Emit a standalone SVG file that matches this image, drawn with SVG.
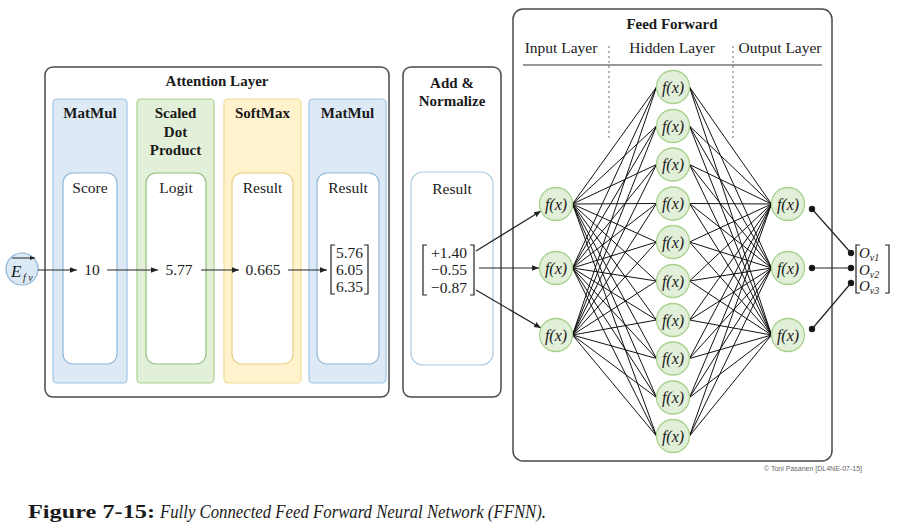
<svg xmlns="http://www.w3.org/2000/svg" width="901" height="529" viewBox="0 0 901 529">
<style>
text{font-family:"Liberation Serif","DejaVu Serif",serif;fill:#1a1a1a}
.t{font-size:15px;font-weight:bold;text-anchor:middle}
.h{font-size:15px;font-weight:bold;text-anchor:middle}
.l{font-size:15.5px;text-anchor:middle}
.v{font-size:15.5px;text-anchor:middle}
.fx{font-size:16px;font-style:italic;text-anchor:middle}
.outer{fill:#fff;stroke:#4a4a4a;stroke-width:1.5}
.blue{fill:#ddeaf6;stroke:#9dc3e6;stroke-width:1.2}
.green{fill:#e2efd9;stroke:#a9d18e;stroke-width:1.2}
.yellow{fill:#fff2cc;stroke:#f0dc9a;stroke-width:1.2}
.inb{fill:#fff;stroke:#8fb6d9;stroke-width:1.2}
.ing{fill:#fff;stroke:#92c07a;stroke-width:1.2}
.iny{fill:#fff;stroke:#e6cf85;stroke-width:1.2}
.node{fill:#e2efd9;stroke:#a9d18e;stroke-width:1.3}
.br{fill:none;stroke:#222;stroke-width:1.2}
.arr{stroke:#222;stroke-width:1.2;fill:none;marker-end:url(#ah)}
.net{stroke:#111;stroke-width:1;fill:none}
</style>
<defs>
<marker id="ah" viewBox="0 0 10 10" refX="10" refY="5" markerWidth="7" markerHeight="7" orient="auto" markerUnits="userSpaceOnUse"><path d="M0,1 L10,5 L0,9 z" fill="#222"/></marker>
<marker id="ahs" viewBox="0 0 10 10" refX="10" refY="5" markerWidth="5" markerHeight="5" orient="auto" markerUnits="userSpaceOnUse"><path d="M0,1 L10,5 L0,9 z" fill="#222"/></marker>
</defs>
<rect width="901" height="529" fill="#fff"/>

<!-- Attention Layer -->
<g id="attention-layer">
<rect class="outer" x="45" y="67" width="344" height="330" rx="8"/>
<text class="t" x="217" y="86">Attention Layer</text>
</g>
<g id="matmul1">
<rect class="blue" x="53" y="99" width="74" height="284" rx="4"/>
<text class="h" x="90" y="118">MatMul</text>
<rect class="inb" x="63" y="173" width="54" height="191" rx="10"/>
<text class="l" x="90" y="193">Score</text>
<text class="v" x="92" y="275">10</text>
</g>
<g id="scaled-dot-product">
<rect class="green" x="137" y="99" width="77" height="284" rx="4"/>
<text class="h" x="175.5" y="118">Scaled</text>
<text class="h" x="175.5" y="137">Dot</text>
<text class="h" x="175.5" y="155">Product</text>
<rect class="ing" x="146" y="173" width="60" height="191" rx="10"/>
<text class="l" x="176" y="193">Logit</text>
<text class="v" x="179" y="275">5.77</text>
</g>
<g id="softmax">
<rect class="yellow" x="224" y="99" width="77" height="284" rx="4"/>
<text class="h" x="262.5" y="118">SoftMax</text>
<rect class="iny" x="232" y="173" width="61" height="191" rx="10"/>
<text class="l" x="262.5" y="193">Result</text>
<text class="v" x="263" y="275">0.665</text>
</g>
<g id="matmul2">
<rect class="blue" x="309" y="99" width="77" height="284" rx="4"/>
<text class="h" x="347.5" y="118">MatMul</text>
<rect class="inb" x="317" y="173" width="62" height="191" rx="10"/>
<text class="l" x="348" y="193">Result</text>
<path class="br" d="M335,245 L331,245 L331,294 L335,294 M364,245 L368,245 L368,294 L364,294"/>
<text class="v" x="349.5" y="258">5.76</text>
<text class="v" x="349.5" y="275">6.05</text>
<text class="v" x="349.5" y="292">6.35</text>
</g>

<!-- input vector -->
<g id="input-vector">
<circle cx="22" cy="269" r="16" fill="#dbe9f5" stroke="#8fb6d6" stroke-width="1.2"/>
<line x1="12" y1="258" x2="35" y2="258" stroke="#222" stroke-width="1" marker-end="url(#ahs)"/>
<text x="11" y="277" style="font-size:17px;font-style:italic">E</text>
<text x="23" y="281" style="font-size:10px;font-style:italic">f v</text>
</g>

<!-- Add & Normalize -->
<g id="add-normalize">
<rect class="outer" x="403" y="67" width="98" height="330" rx="8"/>
<text class="t" x="452" y="88">Add &amp;</text>
<text class="t" x="452" y="106">Normalize</text>
<rect fill="#fff" stroke="#a9cbe3" stroke-width="1.2" x="411" y="172" width="82" height="193" rx="12"/>
<text class="l" x="452" y="194">Result</text>
<path class="br" d="M427,245 L423,245 L423,295 L427,295 M470,245 L474,245 L474,295 L470,295"/>
<text class="v" x="449" y="258">+1.40</text>
<text class="v" x="449" y="275">−0.55</text>
<text class="v" x="449" y="293">−0.87</text>
</g>

<!-- Feed Forward frame -->
<g id="feed-forward">
<rect class="outer" x="513" y="9" width="319" height="452" rx="10"/>
<text class="t" x="672" y="29">Feed Forward</text>
<text class="l" x="561" y="53">Input Layer</text>
<text class="l" x="672" y="53">Hidden Layer</text>
<text class="l" x="780" y="53">Output Layer</text>
<line x1="523" y1="65" x2="822" y2="65" stroke="#777" stroke-width="1.5"/>
<line x1="609" y1="46" x2="609" y2="140" stroke="#666" stroke-width="1" stroke-dasharray="2,3"/>
<line x1="733" y1="46" x2="733" y2="140" stroke="#666" stroke-width="1" stroke-dasharray="2,3"/>
</g>

<!-- connectors -->
<g id="connectors">
<line class="arr" x1="38" y1="270" x2="77" y2="270"/>
<line class="arr" x1="107" y1="270" x2="158" y2="270"/>
<line class="arr" x1="201" y1="270" x2="239" y2="270"/>
<line class="arr" x1="288" y1="270" x2="327" y2="270"/>
<line class="arr" x1="476" y1="251" x2="541" y2="211"/>
<line class="arr" x1="479" y1="268" x2="539" y2="268"/>
<line class="arr" x1="476" y1="290" x2="541" y2="328"/>
<path class="net" d="M572.5,204L656.5,87M572.5,204L656.5,126M572.5,204L656.5,164.5M572.5,204L656.5,203.5M572.5,204L656.5,242M572.5,204L656.5,281M572.5,204L656.5,320M572.5,204L656.5,358.5M572.5,204L656.5,397.5M572.5,204L656.5,436
M572.5,268L656.5,87M572.5,268L656.5,126M572.5,268L656.5,164.5M572.5,268L656.5,203.5M572.5,268L656.5,242M572.5,268L656.5,281M572.5,268L656.5,320M572.5,268L656.5,358.5M572.5,268L656.5,397.5M572.5,268L656.5,436
M572.5,335L656.5,87M572.5,335L656.5,126M572.5,335L656.5,164.5M572.5,335L656.5,203.5M572.5,335L656.5,242M572.5,335L656.5,281M572.5,335L656.5,320M572.5,335L656.5,358.5M572.5,335L656.5,397.5M572.5,335L656.5,436"/>
<path class="net" d="M771.5,204L689.5,87M771.5,204L689.5,126M771.5,204L689.5,164.5M771.5,204L689.5,203.5M771.5,204L689.5,242M771.5,204L689.5,281M771.5,204L689.5,320M771.5,204L689.5,358.5M771.5,204L689.5,397.5M771.5,204L689.5,436
M771.5,268L689.5,87M771.5,268L689.5,126M771.5,268L689.5,164.5M771.5,268L689.5,203.5M771.5,268L689.5,242M771.5,268L689.5,281M771.5,268L689.5,320M771.5,268L689.5,358.5M771.5,268L689.5,397.5M771.5,268L689.5,436
M771.5,335L689.5,87M771.5,335L689.5,126M771.5,335L689.5,164.5M771.5,335L689.5,203.5M771.5,335L689.5,242M771.5,335L689.5,281M771.5,335L689.5,320M771.5,335L689.5,358.5M771.5,335L689.5,397.5M771.5,335L689.5,436"/>
<g stroke="#222" stroke-width="1.2" fill="#111">
<line x1="812" y1="209" x2="851" y2="253"/>
<line x1="812" y1="268" x2="851" y2="268"/>
<line x1="812" y1="329" x2="851" y2="283"/>
<circle cx="812" cy="209" r="2.6"/><circle cx="812" cy="268" r="2.6"/><circle cx="812" cy="329" r="2.6"/>
<circle cx="851" cy="253" r="2.6"/><circle cx="851" cy="268" r="2.6"/><circle cx="851" cy="283" r="2.6"/>
</g>
</g>

<!-- nodes -->
<g id="input-nodes">
<g id="in1"><circle class="node" cx="556" cy="204" r="16.5"/><text class="fx" x="556" y="209.5">f(x)</text></g>
<g id="in2"><circle class="node" cx="556" cy="268" r="16.5"/><text class="fx" x="556" y="273.5">f(x)</text></g>
<g id="in3"><circle class="node" cx="556" cy="335" r="16.5"/><text class="fx" x="556" y="340.5">f(x)</text></g>
</g>
<g id="hidden-nodes">
<g id="h1"><circle class="node" cx="673" cy="87" r="16.5"/><text class="fx" x="673" y="92.5">f(x)</text></g>
<g id="h2"><circle class="node" cx="673" cy="126" r="16.5"/><text class="fx" x="673" y="131.5">f(x)</text></g>
<g id="h3"><circle class="node" cx="673" cy="164.5" r="16.5"/><text class="fx" x="673" y="170">f(x)</text></g>
<g id="h4"><circle class="node" cx="673" cy="203.5" r="16.5"/><text class="fx" x="673" y="209">f(x)</text></g>
<g id="h5"><circle class="node" cx="673" cy="242" r="16.5"/><text class="fx" x="673" y="247.5">f(x)</text></g>
<g id="h6"><circle class="node" cx="673" cy="281" r="16.5"/><text class="fx" x="673" y="286.5">f(x)</text></g>
<g id="h7"><circle class="node" cx="673" cy="320" r="16.5"/><text class="fx" x="673" y="325.5">f(x)</text></g>
<g id="h8"><circle class="node" cx="673" cy="358.5" r="16.5"/><text class="fx" x="673" y="364">f(x)</text></g>
<g id="h9"><circle class="node" cx="673" cy="397.5" r="16.5"/><text class="fx" x="673" y="403">f(x)</text></g>
<g id="h10"><circle class="node" cx="673" cy="436" r="16.5"/><text class="fx" x="673" y="441.5">f(x)</text></g>
</g>
<g id="output-nodes">
<g id="out1"><circle class="node" cx="788" cy="204" r="16.5"/><text class="fx" x="788" y="209.5">f(x)</text></g>
<g id="out2"><circle class="node" cx="788" cy="268" r="16.5"/><text class="fx" x="788" y="273.5">f(x)</text></g>
<g id="out3"><circle class="node" cx="788" cy="335" r="16.5"/><text class="fx" x="788" y="340.5">f(x)</text></g>
</g>

<g id="output-vector">
<path class="br" d="M860,245 L856,245 L856,293 L860,293 M885,245 L889,245 L889,293 L885,293"/>
<text x="859" y="258" style="font-size:15px;font-style:italic">O<tspan style="font-size:10px" dy="3">v1</tspan></text>
<text x="859" y="275" style="font-size:15px;font-style:italic">O<tspan style="font-size:10px" dy="3">v2</tspan></text>
<text x="859" y="291" style="font-size:15px;font-style:italic">O<tspan style="font-size:10px" dy="3">v3</tspan></text>
</g>

<text x="862" y="471" text-anchor="end" style="font-family:'Liberation Sans',sans-serif;font-size:7px;fill:#666">© Toni Pasanen [DL4NE-07-15]</text>
<text x="28" y="518" textLength="127" lengthAdjust="spacingAndGlyphs" style="font-size:18px;font-weight:bold">Figure 7-15:</text>
<text x="160" y="518" textLength="386" lengthAdjust="spacingAndGlyphs" style="font-size:18px;font-style:italic">Fully Connected Feed Forward Neural Network (FFNN).</text>
</svg>
